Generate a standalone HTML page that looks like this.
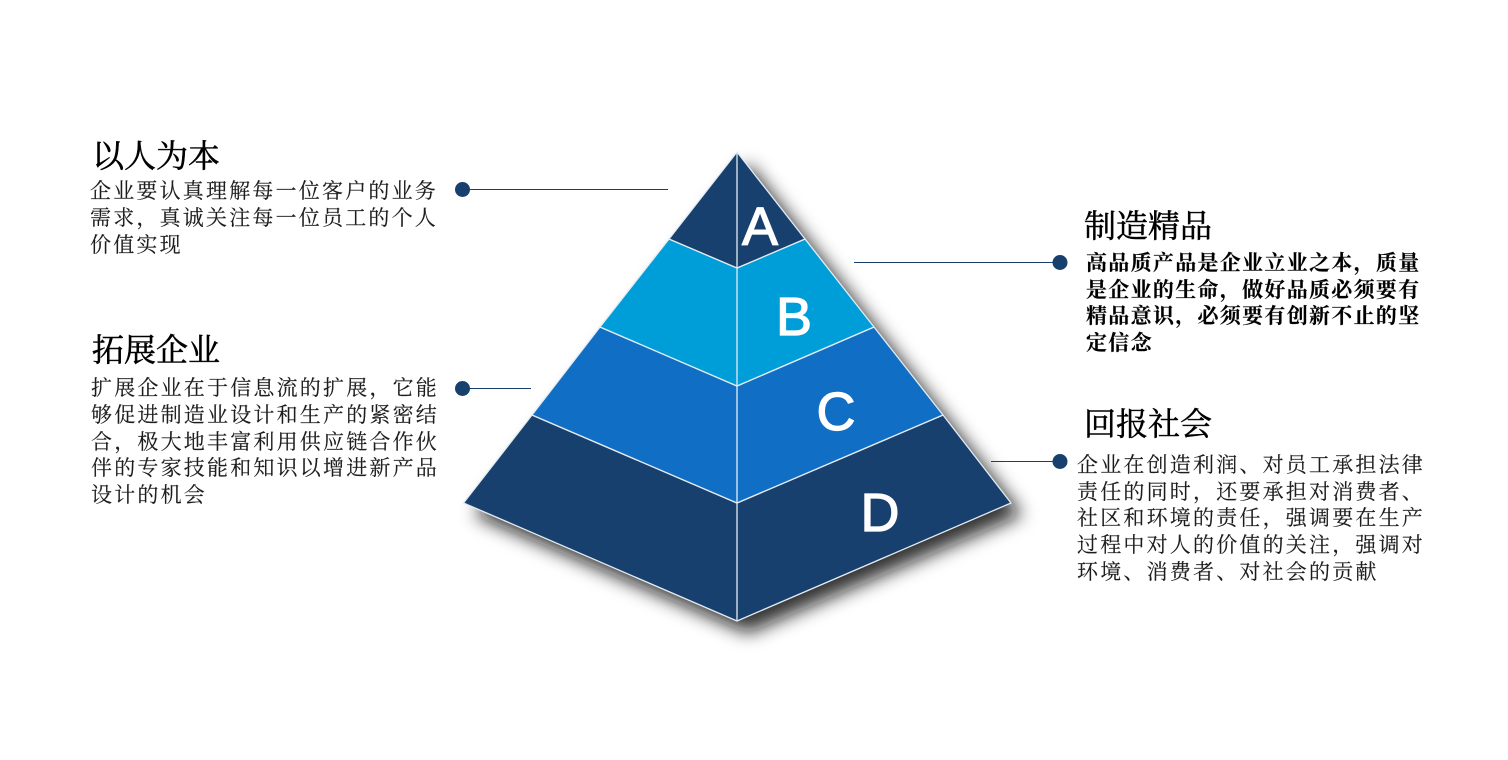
<!DOCTYPE html>
<html>
<head>
<meta charset="utf-8">
<style>
html,body{margin:0;padding:0;background:#fff}
#p{position:relative;width:1508px;height:760px;overflow:hidden;background:#fff;font-family:"Liberation Serif","Noto Serif CJK SC",serif;color:#222}
.t{position:absolute;white-space:nowrap;font-size:32px;letter-spacing:0;line-height:36px;color:#000;-webkit-text-stroke:.5px #000}
.l{position:absolute;white-space:nowrap;font-size:21px;letter-spacing:2.2px;line-height:28px;color:#1c1c1c;-webkit-text-stroke:.15px #1c1c1c}
.b{font-weight:700;font-size:21px;letter-spacing:1.3px;color:#000}
svg{position:absolute;left:0;top:0}
</style>
</head>
<body>
<div id="p">
<svg width="1508" height="760" viewBox="0 0 1508 760">
<defs>
<filter id="s" x="-20%" y="-20%" width="140%" height="140%"><feGaussianBlur stdDeviation="9"/></filter>
</defs>
<polygon points="737,152 1011,503 737,621 464,503" transform="translate(11,12)" fill="#111" fill-opacity=".85" filter="url(#s)"/>
<g stroke="#e4ecf2" stroke-width="1.3" stroke-linejoin="round">
<polygon points="463.500,503 532,415 737,503 943,415 1011,503 737,621" fill="#18406e"/>
<polygon points="532,415 600,327 737,386 874,327 943,415 737,503" fill="#106ec4"/>
<polygon points="600,327 669,239 737,268 805,239 874,327 737,386" fill="#009ed8"/>
<polygon points="669,239 737,152 805,239 737,268" fill="#18406e"/>
<line x1="737" y1="152" x2="737" y2="621"/>
</g>
<g stroke="#18406e" stroke-width="1">
<line x1="462" y1="189.500" x2="668" y2="189.500"/>
<line x1="462" y1="388.500" x2="531" y2="388.500"/>
<line x1="854" y1="262.500" x2="1060" y2="262.500"/>
<line x1="991" y1="461.500" x2="1060" y2="461.500"/>
</g>
<g fill="#18406e">
<circle cx="462.500" cy="189.500" r="7.500"/>
<circle cx="462.500" cy="388.500" r="7.500"/>
<circle cx="1060" cy="262.500" r="7.500"/>
<circle cx="1060" cy="461.500" r="7.500"/>
</g>
<g fill="#fff" stroke="#fff" stroke-width="1.200" font-family="'Liberation Sans',sans-serif" font-size="54" text-anchor="middle">
<text x="760" y="245">A</text>
<text x="794" y="335">B</text>
<text x="836" y="430">C</text>
<text x="880" y="531">D</text>
</g>
</svg>

<div class="t" style="left:92px;top:138px">以人为本</div>
<div class="l" style="left:90px;top:177px">企业要认真理解每一位客户的业务</div>
<div class="l" style="left:90px;top:204px">需求，真诚关注每一位员工的个人</div>
<div class="l" style="left:90px;top:231px">价值实现</div>

<div class="t" style="left:92px;top:332px">拓展企业</div>
<div class="l" style="left:91px;top:374px">扩展企业在于信息流的扩展，它能</div>
<div class="l" style="left:91px;top:401px">够促进制造业设计和生产的紧密结</div>
<div class="l" style="left:91px;top:428px">合，极大地丰富利用供应链合作伙</div>
<div class="l" style="left:91px;top:454px">伴的专家技能和知识以增进新产品</div>
<div class="l" style="left:91px;top:481px">设计的机会</div>

<div class="t" style="left:1084px;top:208px">制造精品</div>
<div class="l b" style="left:1086px;top:249px">高品质产品是企业立业之本，质量</div>
<div class="l b" style="left:1086px;top:276px">是企业的生命，做好品质必须要有</div>
<div class="l b" style="left:1086px;top:302px">精品意识，必须要有创新不止的坚</div>
<div class="l b" style="left:1086px;top:329px">定信念</div>

<div class="t" style="left:1084px;top:406px">回报社会</div>
<div class="l" style="left:1077px;top:451px">企业在创造利润、对员工承担法律</div>
<div class="l" style="left:1077px;top:478px">责任的同时，还要承担对消费者、</div>
<div class="l" style="left:1077px;top:504px">社区和环境的责任，强调要在生产</div>
<div class="l" style="left:1077px;top:531px">过程中对人的价值的关注，强调对</div>
<div class="l" style="left:1077px;top:558px">环境、消费者、对社会的贡献</div>
</div>
</body>
</html>
